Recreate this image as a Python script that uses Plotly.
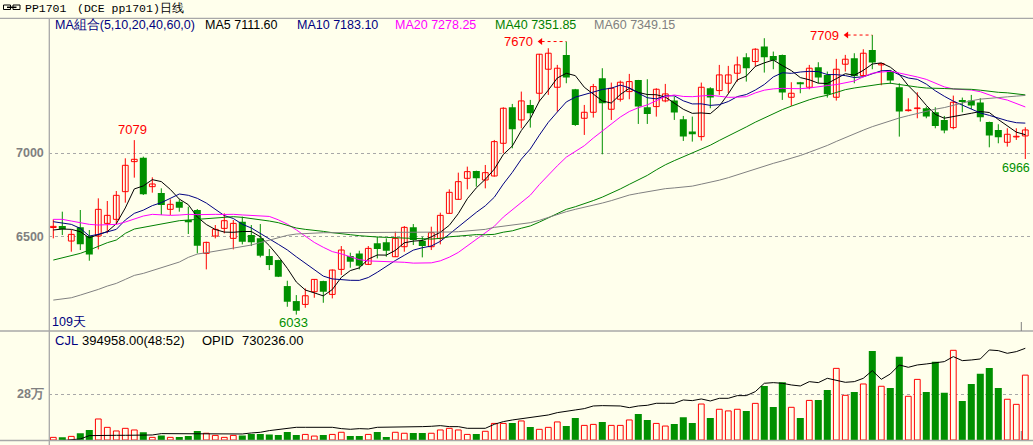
import numpy as np
import pandas as pd
import plotly.graph_objects as go

# ---------------- data ----------------
open_ = [6555, 6564, 6474, 6556, 6504, 6504, 6580, 6604, 6770, 6950,
         6974, 6800, 6762, 6664, 6710, 6600, 6660, 6400, 6504, 6550,
         6490, 6590, 6510, 6490, 6384, 6360, 6204, 6114, 6094, 6170,
         6234, 6154, 6304, 6384, 6400, 6334, 6460, 6466, 6380, 6440,
         6556, 6476, 6440, 6490, 6640, 6724, 6850, 6894, 6840, 6864,
         7060, 7276, 7200, 7290, 7360, 7504, 7396, 7590, 7384, 7210,
         7246, 7450, 7264, 7324, 7370, 7440, 7276, 7280, 7314, 7316,
         7204, 7130, 7100, 7390, 7376, 7420, 7480, 7576, 7550, 7640,
         7584, 7590, 7336, 7426, 7396, 7516, 7470, 7336, 7534, 7570,
         7466, 7620, 7530, 7490, 7396, 7256, 7268, 7270, 7246, 7200,
         7154, 7320, 7316, 7304, 7188, 7140, 7066, 7098, 7104]
high = [6604, 6650, 6540, 6660, 6540, 6730, 6714, 6774, 6970, 7079,
        6980, 6856, 6790, 6724, 6724, 6680, 6666, 6470, 6570, 6640,
        6600, 6620, 6570, 6576, 6426, 6362, 6236, 6150, 6190, 6246,
        6236, 6304, 6444, 6404, 6416, 6444, 6500, 6490, 6530, 6564,
        6576, 6500, 6560, 6644, 6784, 6884, 6920, 6896, 6930, 7080,
        7276, 7296, 7370, 7320, 7596, 7630, 7530, 7670, 7386, 7290,
        7416, 7510, 7424, 7436, 7476, 7440, 7444, 7390, 7416, 7340,
        7224, 7220, 7424, 7396, 7530, 7524, 7580, 7600, 7630, 7690,
        7610, 7592, 7426, 7428, 7530, 7546, 7490, 7566, 7590, 7600,
        7624, 7709, 7540, 7500, 7420, 7330, 7366, 7280, 7276, 7224,
        7346, 7334, 7350, 7330, 7190, 7174, 7150, 7150, 7156]
low = [6490, 6510, 6410, 6420, 6356, 6424, 6520, 6574, 6704, 6854,
       6750, 6764, 6630, 6630, 6650, 6516, 6400, 6304, 6490, 6520,
       6424, 6454, 6444, 6376, 6300, 6258, 6080, 6033, 6074, 6134,
       6104, 6130, 6270, 6314, 6304, 6330, 6370, 6380, 6378, 6410,
       6450, 6376, 6420, 6454, 6638, 6722, 6784, 6800, 6790, 6860,
       7000, 7030, 7150, 7154, 7310, 7350, 7250, 7420, 7164, 7110,
       7214, 6994, 7200, 7310, 7324, 7176, 7176, 7220, 7306, 7200,
       7074, 7070, 7076, 7270, 7350, 7360, 7430, 7430, 7520, 7484,
       7504, 7320, 7284, 7360, 7384, 7420, 7334, 7316, 7490, 7420,
       7460, 7504, 7408, 7416, 7100, 7250, 7210, 7210, 7150, 7120,
       7144, 7246, 7266, 7190, 7036, 7060, 7040, 7080, 6966]
close = [6562, 6544, 6514, 6454, 6394, 6664, 6628, 6748, 6928, 6964,
         6754, 6816, 6690, 6694, 6674, 6586, 6446, 6466, 6544, 6596,
         6580, 6470, 6466, 6386, 6330, 6260, 6110, 6056, 6146, 6244,
         6170, 6300, 6420, 6350, 6326, 6430, 6426, 6416, 6490, 6556,
         6480, 6444, 6524, 6628, 6766, 6830, 6890, 6850, 6884, 7070,
         7270, 7144, 7314, 7240, 7594, 7600, 7510, 7454, 7170, 7246,
         7400, 7300, 7390, 7426, 7430, 7280, 7236, 7384, 7356, 7244,
         7100, 7114, 7396, 7334, 7470, 7470, 7530, 7510, 7624, 7576,
         7556, 7364, 7360, 7414, 7510, 7454, 7354, 7504, 7564, 7464,
         7600, 7544, 7538, 7436, 7250, 7260, 7272, 7220, 7164, 7136,
         7306, 7308, 7286, 7216, 7106, 7096, 7114, 7102, 7140]
volume = [16000, 16000, 22000, 41000, 61000, 128000, 77000, 55000, 71000, 61000,
          47000, 16000, 28000, 16000, 18000, 24000, 55000, 41000, 28000, 16000,
          28000, 28000, 37000, 37000, 34000, 30000, 49000, 30000, 34000, 24000,
          30000, 34000, 47000, 24000, 24000, 34000, 49000, 18000, 47000, 41000,
          43000, 43000, 41000, 61000, 71000, 61000, 34000, 37000, 53000, 101000,
          101000, 103000, 116000, 79000, 65000, 77000, 110000, 85000, 134000, 89000,
          95000, 110000, 89000, 89000, 122000, 158000, 122000, 101000, 85000, 97000,
          138000, 103000, 219000, 134000, 187000, 177000, 187000, 177000, 223000, 329000,
          201000, 351000, 199000, 134000, 241000, 243000, 304000, 436000, 272000, 292000,
          341000, 542000, 327000, 317000, 507000, 266000, 369000, 292000, 477000, 288000,
          546000, 237000, 341000, 404000, 438000, 317000, 248000, 217000, 394958]
opid = [324300, 327200, 330100, 334500, 349000, 350500, 350500, 350500, 350500, 350500,
        351900, 351900, 357800, 357800, 357800, 357800, 357800, 357800, 356300, 354800,
        354800, 356300, 360700, 363600, 370900, 376700, 381000, 385400, 385400, 385400,
        385400, 385400, 379600, 376700, 379600, 378100, 385400, 385400, 385400, 385400,
        388300, 388300, 389800, 392700, 388300, 388300, 381000, 381000, 381000, 398500,
        410100, 417400, 423200, 429100, 434900, 439200, 449400, 456700, 461100, 466900,
        478500, 480000, 478500, 478500, 471200, 478500, 481400, 490200, 490200, 490200,
        504700, 501800, 509100, 500300, 512000, 512000, 523600, 523600, 541100, 577500,
        580400, 577500, 570200, 565800, 584700, 580400, 599300, 589100, 581800, 584700,
        599300, 632800, 594900, 618200, 657500, 647300, 657500, 661900, 667700, 672000,
        693900, 676400, 679300, 683700, 723000, 720100, 708400, 715700, 730236]

# moving-average values before enough history is on screen
ma5_head = [6540, 6546, 6544, 6530]
ma10_head = [6590, 6584, 6574, 6550, 6504, 6514, 6530, 6544, 6600]
ma20_head = [6604, 6604, 6594, 6584, 6574, 6570, 6572, 6574, 6588, 6608,
             6624, 6634, 6630, 6628, 6630, 6634, 6632, 6634, 6634]
ma40_head = [6360, 6374, 6386, 6400, 6420, 6444, 6464, 6480, 6520, 6546,
             6556, 6566, 6580, 6588, 6596, 6600, 6604, 6610, 6614, 6618,
             6620, 6616, 6610, 6604, 6594, 6584, 6570, 6552, 6544, 6540,
             6532, 6524, 6520, 6512, 6506, 6500, 6498, 6496, 6494]
ma60_head = [6120, 6126, 6134, 6150, 6166, 6184, 6204, 6220, 6244, 6268,
             6280, 6298, 6314, 6330, 6348, 6376, 6396, 6404, 6414, 6422,
             6430, 6440, 6450, 6465, 6480, 6494, 6508, 6516, 6520, 6524,
             6524, 6524, 6524, 6524, 6524, 6524, 6525, 6526, 6528, 6528,
             6528, 6526, 6524, 6526, 6528, 6530, 6534, 6538, 6544, 6556,
             6562, 6568, 6576, 6584, 6598, 6616, 6634, 6650, 6664]

ma_periods = [5, 10, 20, 40, 60]
ma_heads = [ma5_head, ma10_head, ma20_head, ma40_head, ma60_head]
ma_colors = ["#000000", "#000080", "#FF00FF", "#008000", "#808080"]
ma_legend = ["MA5 7111.60", "MA10 7183.10", "MA20 7278.25", "MA40 7351.85", "MA60 7349.15"]

# price marks: (index, which, label style)
price_marks = [(9, "high", "up"), (27, "low", "down"), (57, "high", "arrow"),
               (91, "high", "arrow"), (108, "low", "edge")]

# ---------------- layout constants ----------------
W, H = 1033, 445
BG = "#FFFFEC"
RED = "#FF0000"
GREEN = "#009000"
AXIS_GRAY = "#A8A8A8"

def PX(x):
    return x / W

def PY(y):
    return 1 - y / H

n = len(close)
idx = np.arange(n)
o = np.array(open_, float); h = np.array(high, float)
l = np.array(low, float); c = np.array(close, float)
up = c >= o

# geometry
X0, STEP = 53.3, 9.0          # pixel of candle 0, pixel step
LEFT = 49.3
x_range = [(LEFT - X0) / STEP, (W - X0) / STEP]
P_TOP, P_BOT = 18.3, 331.0    # price panel pixel bounds
Y7000, Y6500 = 153.3, 236.7
ppu = (Y6500 - Y7000) / 500.0
def price_at(py):
    return 7000 - (py - Y7000) / ppu
V_TOP, V_BOT = 331.0, 440.0
VOL_PER_PX = 280000 / (V_BOT - 394.0)
OPID_PER_PX = 4365.0
OPID_END_Y = 348.3

fig = go.Figure()

# wicks
for mask, col in [(up, RED), (~up, GREEN)]:
    xs, ys = [], []
    for i in idx[mask]:
        xs += [i, i, None]
        ys += [l[i], h[i], None]
    fig.add_trace(go.Scatter(x=xs, y=ys, mode="lines", line=dict(color=col, width=1),
                             hoverinfo="skip", showlegend=False))

# bodies
body_base = np.minimum(o, c)
body_h = np.maximum(np.abs(c - o), 3)
fig.add_trace(go.Bar(x=idx[up], y=body_h[up], base=body_base[up], width=0.64,
                     marker=dict(color=BG, line=dict(color=RED, width=1)),
                     showlegend=False, hoverinfo="skip"))
fig.add_trace(go.Bar(x=idx[~up], y=body_h[~up], base=body_base[~up], width=0.78,
                     marker=dict(color=GREEN, line=dict(color=GREEN, width=0)),
                     showlegend=False, hoverinfo="skip"))

# moving averages
cs = pd.Series(c)
for p, head, col in zip(ma_periods, ma_heads, ma_colors):
    vals = cs.rolling(p).mean().to_numpy()
    vals[:len(head)] = head
    fig.add_trace(go.Scatter(x=idx, y=vals, mode="lines", line=dict(color=col, width=1),
                             showlegend=False, hoverinfo="skip"))

# volume bars
v = np.array(volume, float)
fig.add_trace(go.Bar(x=idx[up], y=v[up], width=0.64, yaxis="y2",
                     marker=dict(color=BG, line=dict(color=RED, width=1)),
                     showlegend=False, hoverinfo="skip"))
fig.add_trace(go.Bar(x=idx[~up], y=v[~up], width=0.78, yaxis="y2",
                     marker=dict(color=GREEN, line=dict(color=GREEN, width=0)),
                     showlegend=False, hoverinfo="skip"))
# open interest
fig.add_trace(go.Scatter(x=idx, y=opid, mode="lines", yaxis="y3",
                         line=dict(color="#000000", width=1), showlegend=False, hoverinfo="skip"))

annotations = []
shapes = []

def txt(x, y, s, color="#000000", size=12.5, anchor="left", family="Liberation Sans", bold=False):
    if bold:
        s = "<b>" + s + "</b>"
    annotations.append(dict(x=PX(x), y=PY(y), xref="paper", yref="paper", text=s, showarrow=False,
                            xanchor=anchor, yanchor="middle",
                            font=dict(color=color, size=size, family=family)))

# price marks
arrow_x, arrow_y = [], []
for i, which, style in price_marks:
    val = h[i] if which == "high" else l[i]
    lab = str(int(val))
    if style == "up":
        annotations.append(dict(x=i, y=val, xref="x", yref="y", text=lab, showarrow=False,
                                xanchor="center", yanchor="middle", yshift=11, xshift=-2,
                                font=dict(color=RED, size=13, family="Liberation Sans")))
    elif style == "down":
        annotations.append(dict(x=i, y=val, xref="x", yref="y", text=lab, showarrow=False,
                                xanchor="center", yanchor="middle", yshift=-8, xshift=-3,
                                font=dict(color=GREEN, size=13, family="Liberation Sans")))
    elif style == "edge":
        annotations.append(dict(x=i, y=val, xref="x", yref="y", text=lab, showarrow=False,
                                xanchor="right", yanchor="middle", yshift=-9, xshift=7,
                                font=dict(color=GREEN, size=12.5, family="Liberation Sans")))
    else:
        annotations.append(dict(x=i, y=val, xref="x", yref="y", text=lab, showarrow=False,
                                xanchor="right", yanchor="middle", xshift=-31,
                                font=dict(color=RED, size=13, family="Liberation Sans")))
        shapes.append(dict(type="line", xref="x", yref="y", x0=i - 2.75, x1=i, y0=val, y1=val,
                           line=dict(color=RED, width=1, dash="dot")))
        arrow_x.append(i - 2.85)
        arrow_y.append(val)
fig.add_trace(go.Scatter(x=arrow_x, y=arrow_y, mode="markers",
                         marker=dict(symbol="triangle-left", size=6, color=RED),
                         showlegend=False, hoverinfo="skip", cliponaxis=False))

# header
txt(23, 9, "PP1701", size=11.5, family="Liberation Mono")
txt(75, 9, "(DCE pp1701)日线", size=11.5, family="Liberation Mono")
shapes.append(dict(type="rect", xref="paper", yref="paper", x0=PX(3.5), x1=PX(10.5), y0=PY(9.5), y1=PY(5),
                   line=dict(color="#000000", width=1)))
shapes.append(dict(type="rect", xref="paper", yref="paper", x0=PX(13), x1=PX(20), y0=PY(9.5), y1=PY(5),
                   line=dict(color="#000000", width=1)))
shapes.append(dict(type="line", xref="paper", yref="paper", x0=PX(7), x1=PX(16.5), y0=PY(7.3), y1=PY(7.3),
                   line=dict(color="#000000", width=1.5)))

# MA legend row
txt(53, 25.5, "MA組合(5,10,20,40,60,0)", color="#000080")
leg_x = [202.7, 295, 393.3, 492.7, 591.7]
for x, s, col in zip(leg_x, ma_legend, ma_colors):
    txt(x, 25.5, s, color=col)

# axis labels
txt(46, Y7000, "7000", color="#808080", size=12.5, anchor="right", bold=True)
txt(46, Y6500, "6500", color="#808080", size=12.5, anchor="right", bold=True)
txt(46, 394, "28万", color="#808080", size=12.5, anchor="right", bold=True)
txt(50, 322, "109天", color="#000080", size=12.5)

# volume panel header
txt(53, 340.5, "CJL", color="#000080", size=13)
txt(80, 340.5, "394958.00(48:52)", size=13)
txt(200, 340.5, "OPID", size=13)
txt(240, 340.5, "730236.00", size=13)

# frame lines
for y in [18.3, V_TOP, 440.5]:
    shapes.append(dict(type="line", xref="paper", yref="paper", x0=0, x1=1, y0=PY(y), y1=PY(y),
                       line=dict(color=AXIS_GRAY, width=1.3)))
shapes.append(dict(type="line", xref="paper", yref="paper", x0=PX(LEFT), x1=PX(LEFT), y0=PY(18.3), y1=PY(445),
                   line=dict(color=AXIS_GRAY, width=1.3)))
for y0, y1 in [(322, 331), (431, 440)]:
    shapes.append(dict(type="line", xref="paper", yref="paper", x0=PX(1021.3), x1=PX(1021.3),
                       y0=PY(y1), y1=PY(y0), line=dict(color="#808080", width=1)))

fig.update_layout(
    width=W, height=H, margin=dict(l=0, r=0, t=0, b=0),
    paper_bgcolor=BG, plot_bgcolor=BG, barmode="overlay", showlegend=False,
    xaxis=dict(domain=[PX(LEFT), 1], range=x_range, showgrid=False, zeroline=False,
               showticklabels=False, showline=False, ticks=""),
    yaxis=dict(domain=[PY(P_BOT), PY(P_TOP)], range=[price_at(P_BOT), price_at(P_TOP)],
               tickvals=[6500, 7000], showticklabels=False, showgrid=True, gridcolor="#A8A8A8",
               griddash="dot", gridwidth=1, zeroline=False, showline=False),
    yaxis2=dict(domain=[PY(V_BOT), PY(V_TOP)], range=[0, (V_BOT - V_TOP) * VOL_PER_PX],
                tickvals=[280000], showticklabels=False, showgrid=True, gridcolor="#A8A8A8",
                griddash="dot", gridwidth=1, zeroline=False, showline=False),
    yaxis3=dict(overlaying="y2", range=[730236 - (V_BOT - OPID_END_Y) * OPID_PER_PX,
                                        730236 + (OPID_END_Y - V_TOP) * OPID_PER_PX],
                visible=False, showgrid=False),
    annotations=annotations, shapes=shapes,
)

fig.write_html("out.html", config={"displayModeBar": False},
               post_script="document.body.style.margin='0';document.body.style.overflow='hidden';")
